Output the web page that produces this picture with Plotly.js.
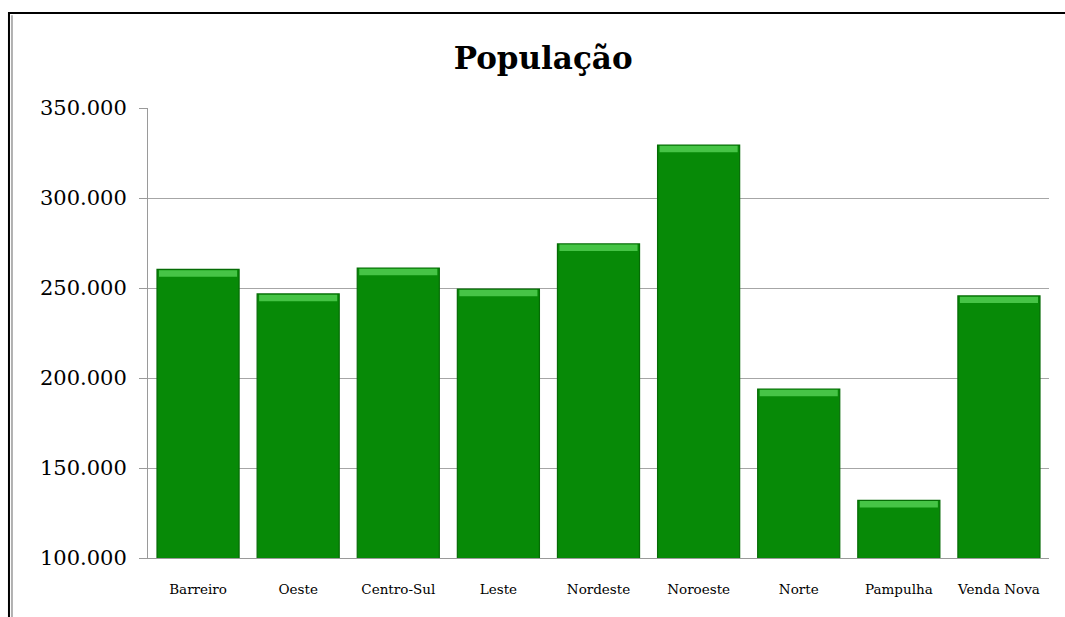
<!DOCTYPE html>
<html>
<head>
<meta charset="utf-8">
<script src="https://cdn.plot.ly/plotly-3.0.1.min.js"></script>
<style>html,body{margin:0;padding:0;background:#fff;}#chart{width:1065px;height:617px;}</style>
</head>
<body>
<div id="chart"></div>
<script>
const categories = ["Barreiro", "Oeste", "Centro-Sul", "Leste", "Nordeste", "Noroeste", "Norte", "Pampulha", "Venda Nova"];
const population = [260300, 246700, 261100, 249400, 274500, 329400, 193900, 132000, 245600];
const yTicks = [100000, 150000, 200000, 250000, 300000, 350000];

const bevel = 3600;
const mainBars = {
  type: "bar", x: categories, y: population, base: 0,
  marker: {color: "#078a07", line: {color: "#056b05", width: 1.2}},
  hoverinfo: "x+y"
};
const topBand = {
  type: "bar", x: categories,
  y: population.map(() => bevel),
  base: population.map(v => v - bevel - 400),
  width: 0.78,
  marker: {color: "#46c446", line: {width: 0}},
  hoverinfo: "skip"
};

const layout = {
  width: 1065, height: 617,
  margin: {l: 148, r: 16, t: 108, b: 59},
  paper_bgcolor: "#fff", plot_bgcolor: "#fff",
  separators: ",.",
  barmode: "overlay", bargap: 0.18,
  showlegend: false,
  font: {family: "DejaVu Serif, serif", color: "#000"},
  title: {text: "<b>População</b>", font: {size: 31, family: "DejaVu Serif, serif", color: "#000"},
          x: 0.51, xref: "container", y: 0.905, yref: "container", yanchor: "middle"},
  xaxis: {showgrid: false, showline: true, linecolor: "#9a9a9a", linewidth: 1,
          ticks: "", tickfont: {size: 13.5}, ticklabelstandoff: 19, fixedrange: true},
  yaxis: {range: [100000, 350000], tickvals: yTicks, tickformat: ",d",
          showgrid: true, gridcolor: "#a6a6a6", gridwidth: 1,
          showline: true, linecolor: "#9a9a9a", linewidth: 1,
          ticks: "outside", ticklen: 8, tickcolor: "#9a9a9a",
          tickfont: {size: 21}, ticklabelstandoff: 8, zeroline: false, fixedrange: true},
  shapes: [
    {type: "rect", xref: "paper", yref: "paper", x0: -0.1543, x1: 1.2, y0: -0.3, y1: 1.211,
     line: {color: "#000", width: 2}},
    {type: "line", xref: "paper", yref: "paper", x0: -0.1510, x1: -0.1510, y0: -0.3, y1: 1.206,
     line: {color: "#b0b0b0", width: 2}}
  ]
};
Plotly.newPlot("chart", [mainBars, topBand], layout, {displayModeBar: false, staticPlot: true});
</script>
</body>
</html>
